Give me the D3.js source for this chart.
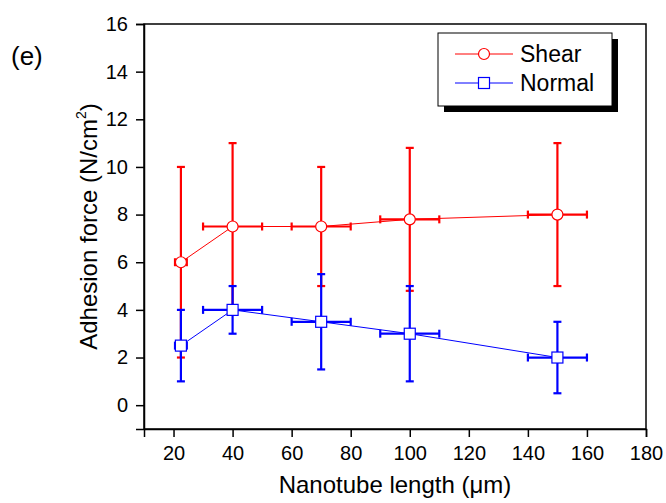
<!DOCTYPE html>
<html>
<head>
<meta charset="utf-8">
<script src="https://cdn.jsdelivr.net/npm/d3@7"></script>
<style>
  body { margin: 0; background: #fff; }
  text { font-family: Arial, 'Liberation Sans', sans-serif; }
</style>
</head>
<body>
<div id="chart"></div>
<script>
// nanotube length (um) and its spread
const lengths = [22.5, 40, 70, 100, 150]
const lengthErr = [2, 10, 10, 10, 10]

// adhesion force (N/cm2), with low / high ends of the error bars
const shear = [6, 7.5, 7.5, 7.8, 8]
const shearLow = [2, 4, 5, 4.8, 5]
const shearHigh = [10, 11, 10, 10.8, 11]

const normal = [2.5, 4, 3.5, 3, 2]
const normalLow = [1, 3, 1.5, 1, 0.5]
const normalHigh = [4, 5, 5.5, 5, 3.5]

const xTicks = [20, 40, 60, 80, 100, 120, 140, 160, 180]
const yTicks = [0, 2, 4, 6, 8, 10, 12, 14, 16]

const width = 666, height = 503
const margin = { top: 24, right: 20, bottom: 74, left: 144 }

const svg = d3.select('#chart').append('svg')
  .attr('width', width)
  .attr('height', height)

const x = d3.scaleLinear().domain([10, 180]).range([margin.left, width - margin.right])
const y = d3.scaleLinear().domain([-1, 16]).range([height - margin.bottom, margin.top])

const x0 = x.range()[0], x1 = x.range()[1]
const y0 = y.range()[0], y1 = y.range()[1]

// frame
svg.append('rect')
  .attr('x', x0).attr('y', y1)
  .attr('width', x1 - x0).attr('height', y0 - y1)
  .attr('fill', 'none').attr('stroke', '#000').attr('stroke-width', 1.5)

// x axis, major + minor
const xAxis = svg.append('g').attr('transform', `translate(0,${y0})`)
xAxis.call(d3.axisBottom(x).tickValues(d3.range(10, 181, 10)).tickSize(4).tickFormat(''))
xAxis.call(d3.axisBottom(x).tickValues(xTicks).tickSize(8).tickPadding(9).tickFormat(d3.format('d')))
xAxis.selectAll('.domain').attr('stroke-width', 1.5)
xAxis.selectAll('line').attr('stroke-width', 1.5)
xAxis.selectAll('text').attr('font-size', 20).attr('fill', '#000')
  .attr('font-family', 'Arial, Liberation Sans, sans-serif')

const yAxis = svg.append('g').attr('transform', `translate(${x0},0)`)
yAxis.call(d3.axisLeft(y).tickValues(d3.range(-1, 17, 1)).tickSize(4).tickFormat(''))
yAxis.call(d3.axisLeft(y).tickValues(yTicks).tickSize(8).tickPadding(8).tickFormat(d3.format('d')))
yAxis.selectAll('.domain').attr('stroke-width', 1.5)
yAxis.selectAll('line').attr('stroke-width', 1.5)
yAxis.selectAll('text').attr('font-size', 20).attr('fill', '#000')
  .attr('font-family', 'Arial, Liberation Sans, sans-serif')

// axis titles
svg.append('text')
  .attr('x', (x0 + x1) / 2).attr('y', 493)
  .attr('text-anchor', 'middle').attr('font-size', 24)
  .text('Nanotube length (\u03bcm)')

const yt = svg.append('text')
  .attr('transform', `translate(97,${(y0 + y1) / 2}) rotate(-90)`)
  .attr('text-anchor', 'middle').attr('font-size', 24)
yt.append('tspan').text('Adhesion force (N/cm')
yt.append('tspan').attr('font-size', 14).attr('dy', -11).text('2')
yt.append('tspan').attr('dy', 11).text(')')

svg.append('text')
  .attr('x', 11).attr('y', 65)
  .attr('font-size', 26)
  .text('(e)')

function drawSeries(vals, lows, highs, color, marker) {
  const g = svg.append('g')
  const line = d3.line().x((d, i) => x(lengths[i])).y(d => y(d))
  g.append('path').datum(vals)
    .attr('d', line).attr('fill', 'none')
    .attr('stroke', color).attr('stroke-width', 1)

  const cap = 4
  vals.forEach((v, i) => {
    const cx = x(lengths[i]), cy = y(v)
    const eb = g.append('g').attr('stroke', color).attr('stroke-width', 2.2)
    // vertical bar
    eb.append('line').attr('x1', cx).attr('x2', cx).attr('y1', y(lows[i])).attr('y2', y(highs[i]))
    eb.append('line').attr('x1', cx - cap).attr('x2', cx + cap).attr('y1', y(lows[i])).attr('y2', y(lows[i]))
    eb.append('line').attr('x1', cx - cap).attr('x2', cx + cap).attr('y1', y(highs[i])).attr('y2', y(highs[i]))
    // horizontal bar
    const xl = x(lengths[i] - lengthErr[i]), xr = x(lengths[i] + lengthErr[i])
    eb.append('line').attr('x1', xl).attr('x2', xr).attr('y1', cy).attr('y2', cy)
    eb.append('line').attr('x1', xl).attr('x2', xl).attr('y1', cy - cap).attr('y2', cy + cap)
    eb.append('line').attr('x1', xr).attr('x2', xr).attr('y1', cy - cap).attr('y2', cy + cap)
  })

  vals.forEach((v, i) => drawMarker(g, x(lengths[i]), y(v), color, marker))
}

function drawMarker(g, cx, cy, color, marker) {
  if (marker === 'circle') {
    g.append('circle').attr('cx', cx).attr('cy', cy).attr('r', 5.5)
      .attr('fill', '#fff').attr('stroke', color).attr('stroke-width', 1.2)
  } else {
    g.append('rect').attr('x', cx - 5.5).attr('y', cy - 5.5).attr('width', 11).attr('height', 11)
      .attr('fill', '#fff').attr('stroke', color).attr('stroke-width', 1.2)
  }
}

drawSeries(shear, shearLow, shearHigh, '#ff0000', 'circle')
drawSeries(normal, normalLow, normalHigh, '#0000ff', 'square')

// legend
const lg = svg.append('g')
lg.append('rect').attr('x', 444).attr('y', 39).attr('width', 174).attr('height', 73).attr('fill', '#000')
lg.append('rect').attr('x', 438).attr('y', 33).attr('width', 174).attr('height', 73)
  .attr('fill', '#fff').attr('stroke', '#000').attr('stroke-width', 1)

const items = [
  { name: 'Shear', color: '#ff0000', marker: 'circle', yy: 54 },
  { name: 'Normal', color: '#0000ff', marker: 'square', yy: 83 }
]
items.forEach(it => {
  lg.append('line').attr('x1', 455).attr('x2', 513).attr('y1', it.yy).attr('y2', it.yy)
    .attr('stroke', it.color).attr('stroke-width', 1)
  drawMarker(lg, 484, it.yy, it.color, it.marker)
  lg.append('text').attr('x', 520).attr('y', it.yy + 8).attr('font-size', 23).text(it.name)
})
</script>
</body>
</html>
